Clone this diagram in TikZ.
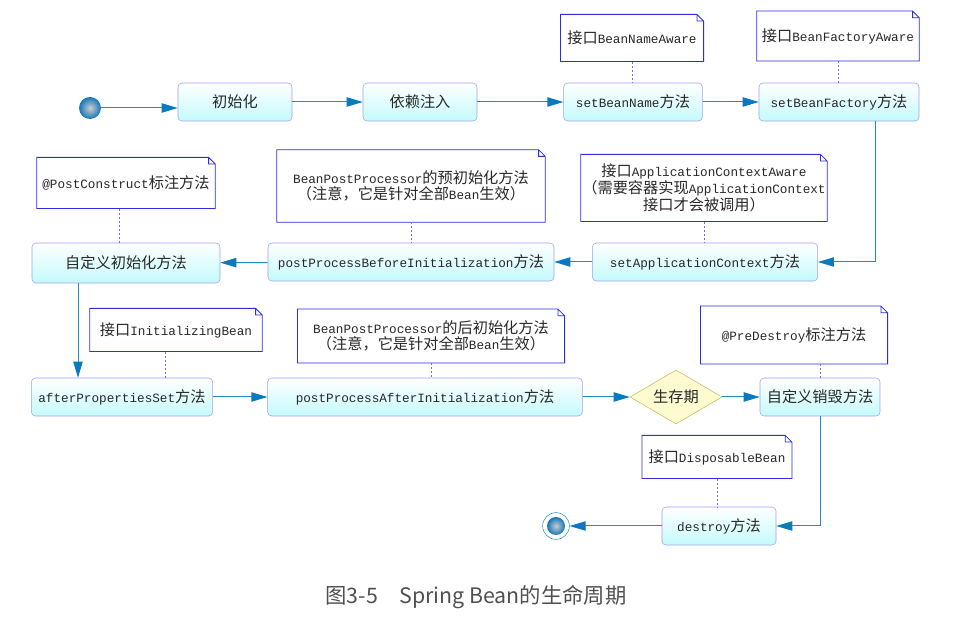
\documentclass[tikz,border=0pt]{standalone}
\usepackage{fontspec}
\setmonofont{Liberation Mono}
\newfontfamily\cjkfont[Scale=1.2]{Noto Sans CJK SC}
\newfontfamily\capfont{Noto Sans CJK SC}
\newcommand{\zh}[1]{{\cjkfont #1}}
\usetikzlibrary{arrows.meta,shapes.geometric}
\definecolor{flowc}{RGB}{35,138,196}
\definecolor{tipc}{RGB}{10,122,190}
\definecolor{actline}{RGB}{155,160,245}
\definecolor{actfill}{RGB}{196,250,252}
\definecolor{noteline}{RGB}{45,45,225}
\definecolor{dotc}{RGB}{110,110,230}
\definecolor{choicefill}{RGB}{255,251,208}
\definecolor{choiceline}{RGB}{190,185,90}
\definecolor{txt}{RGB}{40,40,40}
\definecolor{ballc}{RGB}{20,118,185}
\definecolor{capc}{RGB}{80,80,80}
\tikzset{
  act/.style={draw=actline, rounded corners=3pt, top color=white, bottom color=actfill,
    minimum height=28.5pt, text=txt, font=\ttfamily\fontsize{9.5pt}{11.5pt}\selectfont},
  note/.style={fill=white, inner sep=1pt, align=center, text=txt,
    font=\ttfamily\fontsize{9.5pt}{11.5pt}\selectfont},
  choice/.style={diamond, draw=choiceline, fill=choicefill, inner sep=0pt, aspect=1.7,
    minimum width=69pt, minimum height=40.5pt, text=txt, font=\fontsize{9.5pt}{11.5pt}\selectfont},
  ball/.style={circle, inner sep=0pt, inner color=gray!40, outer color=ballc},
  flow/.style={draw=flowc, line width=0.75pt, -{Triangle[length=12pt,width=7pt,color=tipc]}},
  tie/.style={draw=dotc, line width=0.6pt, dash pattern=on 1.5pt off 1.5pt}
}
\begin{document}
\begin{tikzpicture}[x=0.75pt,y=-0.75pt]
  \useasboundingbox (0,0) rectangle (958,620);
  % activities
  \node[ball, minimum size=16.5pt] (start) at (90,108) {};
  \node[act, minimum width=85.5pt] (init) at (235,102) {\zh{初始化}};
  \node[act, minimum width=85.5pt] (dep) at (420,102) {\zh{依赖注入}};
  \node[act, minimum width=104pt] (bn) at (633,102) {setBeanName\zh{方法}};
  \node[act, minimum width=120pt] (bf) at (839,102) {setBeanFactory\zh{方法}};
  \node[act, minimum width=169pt] (sac) at (705,262) {setApplicationContext\zh{方法}};
  \node[act, minimum width=214.5pt] (ppb) at (411,262) {postProcessBeforeInitialization\zh{方法}};
  \node[act, minimum width=141pt, minimum height=30pt] (ci) at (126,263) {\zh{自定义初始化方法}};
  \node[act, minimum width=136pt] (aps) at (122,397) {afterPropertiesSet\zh{方法}};
  \node[act, minimum width=236pt] (ppa) at (425,397) {postProcessAfterInitialization\zh{方法}};
  \node[choice] (life) at (676,397) {\zh{生存期}};
  \node[act, minimum width=90pt] (cd) at (820,397) {\zh{自定义销毁方法}};
  \node[act, minimum width=85.5pt] (des) at (719,526) {destroy\zh{方法}};
  \node[circle, draw=flowc, line width=0.4pt, minimum size=20pt, inner sep=0pt] (end) at (556,526) {};
  \node[ball, minimum size=13.5pt] (endball) at (end) {};
  % notes
  \node[note, minimum width=107pt, minimum height=35pt] (nbn) at (632,38) {\zh{接口}BeanNameAware};
  \node[note, minimum width=121.5pt, minimum height=37pt] (nbf) at (838,36) {\zh{接口}BeanFactoryAware};
  \node[note, minimum width=133.5pt, minimum height=38pt] (npc) at (126,183) {@PostConstruct\zh{标注方法}};
  \node[note, minimum width=201pt, minimum height=54pt] (npb) at (411,186)
    {BeanPostProcessor\zh{的预初始化方法}\\\zh{（注意，它是针对全部}Bean\zh{生效）}};
  \node[note, minimum width=184pt, minimum height=50pt] (nac) at (704,188)
    {\zh{接口}ApplicationContextAware\\\zh{（需要容器实现}ApplicationContext\\\zh{接口才会被调用）}};
  \node[note, minimum width=129pt, minimum height=32pt] (nib) at (176,330) {\zh{接口}InitializingBean};
  \node[note, minimum width=200pt, minimum height=40pt] (npa) at (431,336)
    {BeanPostProcessor\zh{的后初始化方法}\\\zh{（注意，它是针对全部}Bean\zh{生效）}};
  \node[note, minimum width=140pt, minimum height=43pt] (npd) at (794,335) {@PreDestroy\zh{标注方法}};
  \node[note, minimum width=112pt, minimum height=32pt] (ndb) at (717,457) {\zh{接口}DisposableBean};
  \foreach \nm in {nbn,nbf,npc,npb,nac,nib,npa,npd,ndb}
    \draw[noteline, line width=0.6pt] (\nm.south west) -- (\nm.north west) -- ([xshift=-5pt]\nm.north east)
      -- ([yshift=-5pt]\nm.north east) -- (\nm.south east) -- cycle
      ([xshift=-5pt]\nm.north east) -- ([xshift=-5pt,yshift=-5pt]\nm.north east) -- ([yshift=-5pt]\nm.north east);
  % note ties
  \draw[tie] (nbn.south) -- (nbn.south |- bn.north);
  \draw[tie] (nbf.south) -- (nbf.south |- bf.north);
  \draw[tie] ([xshift=-5.25pt]npc.south) -- ([xshift=-5.25pt]npc.south |- ci.north);
  \draw[tie] (npb.south) -- (npb.south |- ppb.north);
  \draw[tie] (nac.south) -- (nac.south |- sac.north);
  \draw[tie] ([xshift=-8.25pt]nib.south) -- ([xshift=-8.25pt]nib.south |- aps.north);
  \draw[tie] (npa.south) -- (npa.south |- ppa.north);
  \draw[tie] (cd.north) -- (cd.north |- npd.south);
  \draw[tie] (ndb.south) -- (ndb.south |- des.north);
  % flow
  \draw[flow] (start) -- (start -| init.west);
  \draw[flow] (init) -- (dep);
  \draw[flow] (dep) -- (bn);
  \draw[flow] (bn) -- (bf);
  \draw[flow] ([xshift=27pt]bf.south) |- (sac.east);
  \draw[flow] (sac) -- (ppb);
  \draw[flow] (ppb) -- (ci);
  \draw[flow] ([xshift=-36pt]ci.south) -- ([xshift=-36pt]ci.south |- aps.north);
  \draw[flow] (aps) -- (ppa);
  \draw[flow] (ppa) -- (life);
  \draw[flow] (life) -- (cd);
  \draw[flow] (cd.south) |- (des.east);
  \draw[flow] (des) -- (end);
  % caption
  \node[font=\capfont\fontsize{16pt}{19pt}\selectfont, text=capc] (cap) at (476,597) {图3-5　Spring Bean的生命周期};
\end{tikzpicture}
\end{document}
